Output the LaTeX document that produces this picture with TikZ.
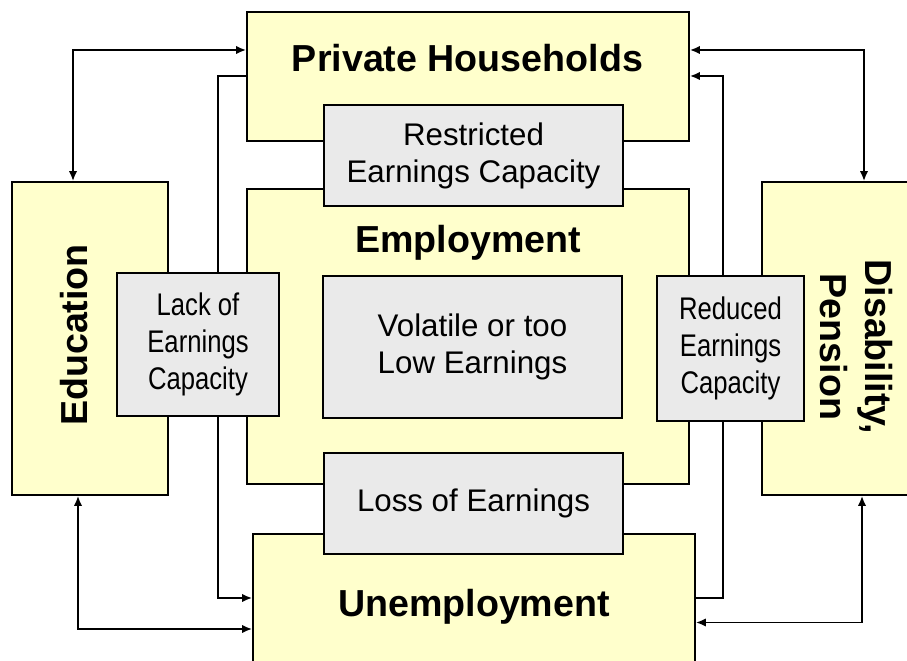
\documentclass[tikz,border=0pt]{standalone}
\usepackage{fontspec}
\setmainfont{Liberation Sans}
\newfontfamily\narrowfont[FakeStretch=0.82]{Liberation Sans}
\usepackage{xcolor}
\usepackage{tikz}
\usetikzlibrary{arrows.meta}
\definecolor{sectoryellow}{HTML}{FFFFCC}
\definecolor{issuegray}{HTML}{EAEAEA}

\begin{document}
\begin{tikzpicture}[
  sector/.style={draw, line width=1.1pt, fill=sectoryellow, inner sep=0pt},
  issue/.style={draw, line width=1.1pt, fill=issuegray, inner sep=0pt, align=center,
    font=\fontsize{17.8}{21}\selectfont},
  title/.style={font=\fontsize{21.4}{25.6}\selectfont\bfseries, inner sep=0pt, align=center},
  link/.style={line width=1pt},
  >={Latex[length=5.6pt,width=4.8pt]}]
  \useasboundingbox (0,0) rectangle (18.14,13.2);
  \clip (0,0) rectangle (18.14,13.2);
  \node[sector, minimum width=8.84cm, minimum height=2.58cm] (ph) at (9.36,11.67) {};
  \node[sector, minimum width=8.84cm, minimum height=5.90cm] (emp) at (9.36,6.47) {};
  \node[sector, minimum width=8.84cm, minimum height=2.80cm] (unemp) at (9.48,1.12) {};
  \node[sector, minimum width=3.12cm, minimum height=6.26cm] (edu) at (1.80,6.43) {};
  \node[sector, minimum width=3.76cm, minimum height=6.26cm] (dis) at (17.12,6.43) {};
  \node[title, anchor=base] (phtext) at (9.35,11.76) {Private Households};
  \node[title, anchor=base] (emptext) at (9.36,8.14) {Employment};
  \node[title, anchor=base] (unemptext) at (9.48,0.86) {Unemployment};
  \node[title, rotate=90] (edutext) at (1.49,6.50) {Education};
  \node[title, rotate=-90] (distext) at (17.13,6.26) {Disability,\\Pension};
  \node[issue, minimum width=5.98cm, minimum height=2.02cm] (restr) at (9.47,10.09)
    {Restricted\\Earnings Capacity};
  \node[issue, minimum width=5.98cm, minimum height=2.84cm] (vol) at (9.45,6.26)
    {Volatile or too\\Low Earnings};
  \node[issue, minimum width=5.98cm, minimum height=2.02cm] (loss) at (9.47,3.13)
    {Loss of Earnings};
  \node[issue, minimum width=3.24cm, minimum height=2.86cm] (lack) at (3.96,6.31)
    {\narrowfont Lack of\\\narrowfont Earnings\\\narrowfont Capacity};
  \node[issue, minimum width=2.94cm, minimum height=2.90cm] (red) at (14.61,6.23)
    {\narrowfont Reduced\\\narrowfont Earnings\\\narrowfont Capacity};
  \coordinate (eduup) at (1.46,12.20);
  \coordinate (lackup) at (4.36,11.68);
  \coordinate (lackdown) at (4.36,1.24);
  \coordinate (edudown) at (1.56,0.62);
  \coordinate (disup) at (17.28,12.20);
  \coordinate (redup) at (14.46,11.68);
  \coordinate (reddown) at (14.46,1.24);
  \coordinate (disdown) at (17.24,0.75);
  \draw[link, <->] (edu.north -| eduup) |- (ph.west |- eduup);
  \draw[link] (lack.north -| lackup) |- (ph.west |- lackup);
  \draw[link, ->] (lack.south -| lackdown) |- (unemp.west |- lackdown);
  \draw[link, <->] (edu.south -| edudown) |- (unemp.west |- edudown);
  \draw[link, <->] (dis.north -| disup) |- (ph.east |- disup);
  \draw[link, ->] (red.north -| redup) |- (ph.east |- redup);
  \draw[link] (red.south -| reddown) |- (unemp.east |- reddown);
  \draw[link, <->] (dis.south -| disdown) |- (unemp.east |- disdown);
\end{tikzpicture}
\end{document}
